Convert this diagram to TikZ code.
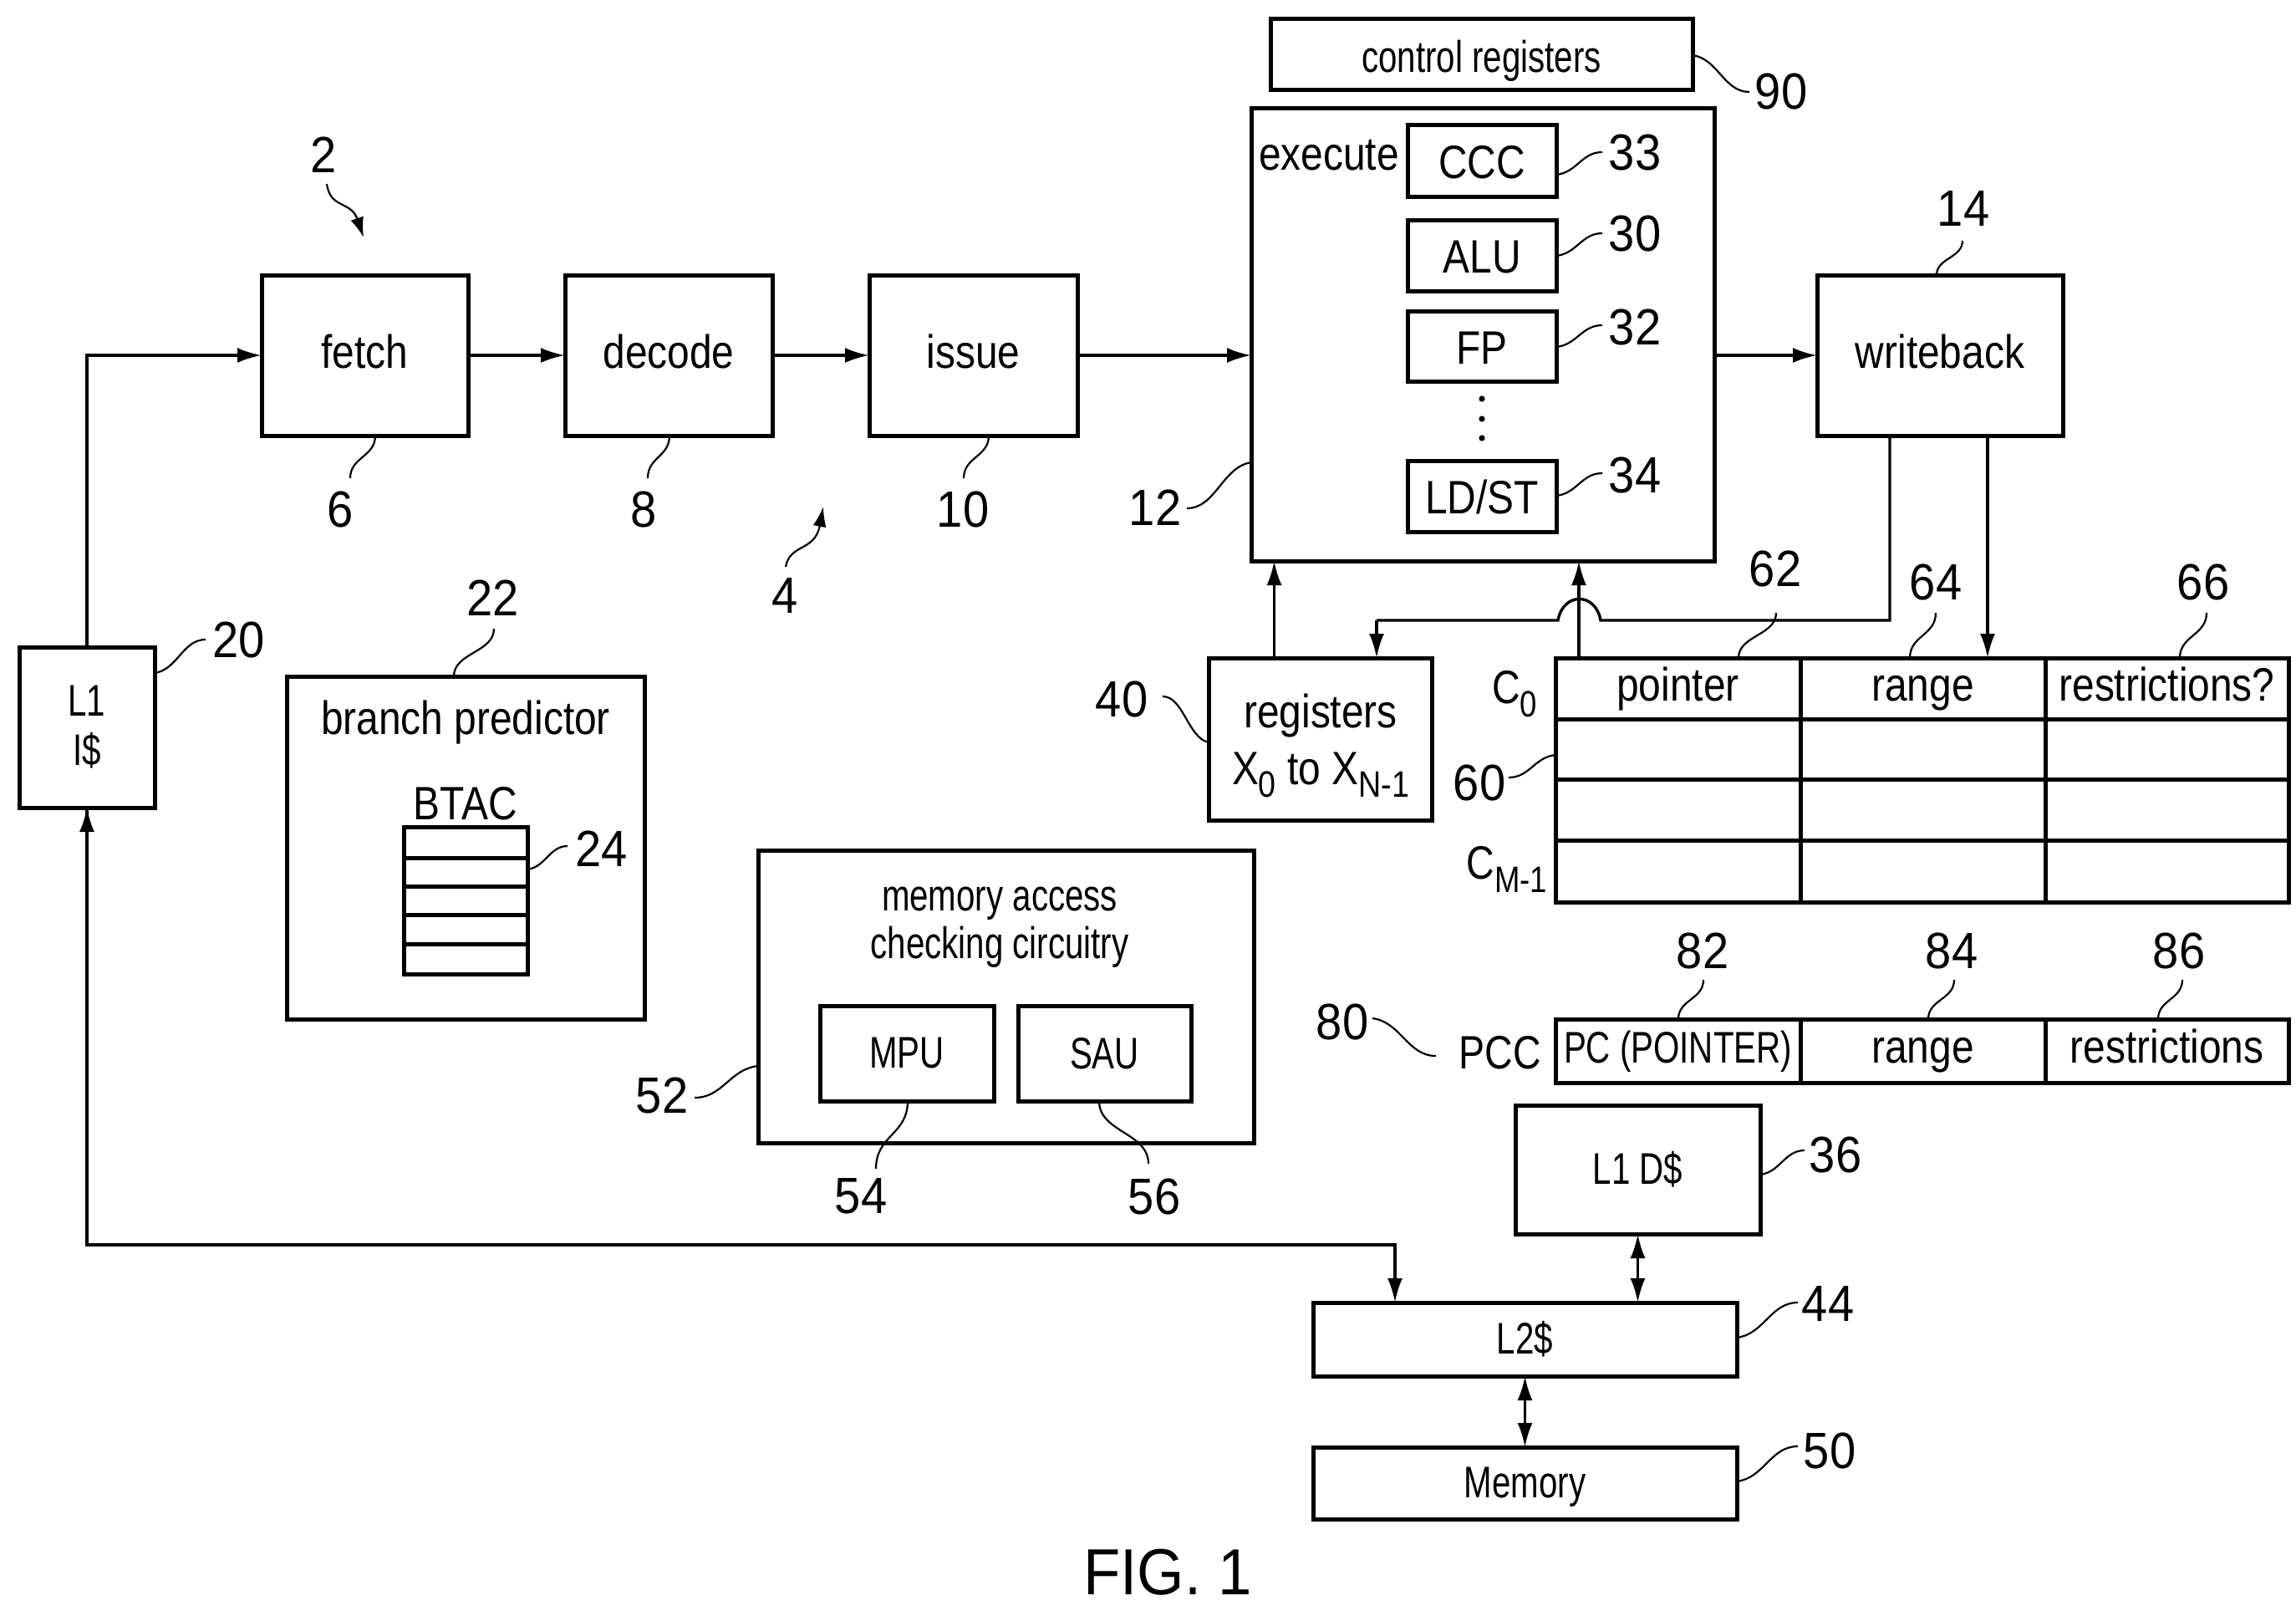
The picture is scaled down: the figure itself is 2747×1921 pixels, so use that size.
\documentclass[tikz,border=0pt]{standalone}
\usepackage{fontspec}
\usetikzlibrary{arrows.meta,calc}
\setmainfont{Liberation Sans}
\newfontfamily\lblfont[FakeStretch=.76]{Liberation Sans}
\newfontfamily\bigfont[FakeStretch=.855]{Liberation Sans}
\newfontfamily\capfont[FakeStretch=.83]{Liberation Sans}
\newfontfamily\numfont[FakeStretch=.92]{Liberation Sans}
\newfontfamily\figfont[FakeStretch=.93]{Liberation Sans}
\newcommand{\lblsize}{\lblfont\fontsize{53}{57}\selectfont}
\newcommand{\bigsize}{\bigfont\fontsize{56}{60}\selectfont}
\newcommand{\capsize}{\capfont\fontsize{56}{60}\selectfont}
\newcommand{\numsize}{\numfont\fontsize{61}{66}\selectfont}
\newcommand{\sbs}[1]{\raisebox{-.28em}{\fontsize{44}{44}\selectfont #1}}
\tikzset{
  boxst/.style={draw=black,line width=5pt,fill=white,inner sep=0pt,outer sep=0pt,font=\lblsize,align=center},
  big/.style={font=\bigsize},
  lowa/.style={text height=42pt,text depth=12pt},
  lowb/.style={text height=54pt,text depth=12pt},
  lowc/.style={text height=54pt,text depth=12pt},
  lowd/.style={text height=47pt,text depth=12pt},
  txt/.style={inner sep=0pt,font=\lblsize,align=center},
  numst/.style={inner sep=0pt,font=\numsize},
  wire/.style={draw=black,line width=3.4pt},
  head/.style={-{Latex[length=29pt,width=18pt]}},
  dhead/.style={{Latex[length=29pt,width=18pt]}-{Latex[length=29pt,width=18pt]}},
  leadst/.style={draw=black,line width=2.2pt},
}
\newcommand{\bxn}[7][]{%
  \pgfmathsetmacro\cw{#5-#3}\pgfmathsetmacro\ch{#6-#4}%
  \node[boxst,minimum width=\cw pt,minimum height=\ch pt,#1] (#2) at ({(#3+#5)/2},{(#4+#6)/2}) {#7};}
\newcommand{\nm}[4]{\node[numst] (#1) at (#2,#3) {#4};}
% leaders: horizontal-ended and vertical-ended S curves
\newcommand{\ldh}[5]{\coordinate (#1a) at (#2,#3);\coordinate (#1b) at (#4,#5);
  \draw[leadst] (#1a) .. controls ({#2+.45*(#4-#2)},{#3+.1*(#5-#3)}) and ({#4-.45*(#4-#2)},{#5}) .. (#1b);}
\newcommand{\ldv}[5]{\coordinate (#1a) at (#2,#3);\coordinate (#1b) at (#4,#5);
  \draw[leadst] (#1a) .. controls ({#2},{#3+.5*(#5-#3)}) and ({#4},{#5-.5*(#5-#3)}) .. (#1b);}
\begin{document}
\begin{tikzpicture}[x=1pt,y=-1pt]
\useasboundingbox (0,0) rectangle (2747,1921);
\fill[white] (0,0) rectangle (2747,1921);

% pipeline
\bxn[big,lowa]{fetch}{313}{329}{560}{521}{fetch}
\bxn[big,lowa]{decode}{676}{329}{924}{521}{decode}
\bxn[big,lowa]{issue}{1040}{329}{1289}{521}{issue}
\bxn{exec}{1497}{130}{2051}{671}{}
\bxn[big,lowa]{wb}{2174}{329}{2468}{521}{writeback}
\bxn[lowc]{ctrl}{1520}{23}{2025}{108}{control registers}
\node[txt,big,anchor=base] (exectxt) at (1590,204) {execute};
\bxn[big,lowb]{ccc}{1684}{150}{1862}{236}{CCC}
\bxn[big,lowb]{alu}{1684}{263}{1862}{348}{ALU}
\bxn[big,lowb]{fp}{1684}{372}{1862}{456}{FP}
\bxn[big,lowb]{ldst}{1684}{551}{1862}{636}{LD/ST}
\foreach \i/\yy in {a/477,b/501,c/524}{\fill[black] (1773,\yy) circle (3.6pt) coordinate (dot\i);}

% L1 I$, predictor
\bxn{lone}{23}{774}{185}{966}{L1\\[2pt]I\$}
\bxn{bp}{343}{809}{771}{1219}{}
\node[txt,big] (bptxt) at (557,864) {branch predictor};
\node[txt,big] (btac) at (557,961) {BTAC};
\bxn{btacbox}{483}{989}{631}{1165}{}
\foreach \i/\yy in {a/1026,b/1060,c/1094,d/1129}{\draw[line width=5pt] (btacbox.west |- 0,\yy) coordinate (bl\i) -- (btacbox.east |- 0,\yy);}

% memory checker
\bxn{mac}{907}{1017}{1500}{1367}{}
\node[txt] (mactxt) at (1196,1109) {memory access\\checking circuitry};
\bxn{mpu}{981}{1203}{1189}{1317}{MPU}
\bxn{sau}{1218}{1203}{1425}{1317}{SAU}

% registers
\bxn{regs}{1446}{787}{1713}{981}{}
\node[txt,big] (regtxt) at (1580,892) {registers\\[8pt]X\sbs{0} to X\sbs{N-1}};

% capability table
\foreach \c/\xa/\xb in {0/1861/2154,1/2154/2447,2/2447/2738}{
  \foreach \r/\ya/\yb in {0/787/860,1/860/932,2/932/1005,3/1005/1079}{
    \bxn{cell\r\c}{\xa}{\ya}{\xb}{\yb}{}
  }
}
\node[txt,big,anchor=base] (t0) at (cell00 |- 0,838) {pointer};
\node[txt,big,anchor=base] (t1) at (cell01 |- 0,838) {range};
\node[txt,big,anchor=base] (t2) at (cell02 |- 0,838) {restrictions?};
\node[txt,font=\capsize] (czero) at (1812,830) {C\sbs{0}};
\node[txt,font=\capsize] (cm) at (1803,1040) {C\sbs{M-1}};

% PCC
\bxn{pa}{1861}{1219}{2154}{1295}{}
\bxn{pb}{2154}{1219}{2447}{1295}{}
\bxn{pc}{2447}{1219}{2738}{1295}{}
\node[txt,anchor=base] (pta) at (pa |- 0,1271) {PC (POINTER)};
\node[txt,big,anchor=base] (ptb) at (pb |- 0,1271) {range};
\node[txt,big,anchor=base] (ptc) at (pc |- 0,1271) {restrictions};
\node[txt,font=\capsize] (pcc) at (1795,1259) {PCC};

% caches and memory
\bxn{done}{1813}{1322}{2106}{1476}{L1 D\$}
\bxn{ltwo}{1571}{1558}{2078}{1646}{L2\$}
\bxn[lowd]{mem}{1571}{1731}{2078}{1817}{Memory}

% connectors
\draw[wire,head] (fetch.east) -- (decode.west);
\draw[wire,head] (decode.east) -- (issue.west);
\draw[wire,head] (issue.east) -- (issue.east -| exec.west);
\draw[wire,head] (wb.west -| exec.east) -- (wb.west);
\draw[wire,head] (lone.north) |- (fetch.west);
\coordinate (busturn) at (1669,1489);
\draw[wire,head] (lone.south) |- (busturn) -- (busturn |- ltwo.north);
\draw[wire,{Latex[length=29pt,width=18pt]}-] (lone.south) -- ++(0,40);
\coordinate (regup) at ([xshift=-55pt]regs.north);
\draw[wire,head] (regup) -- (regup |- exec.south);
\coordinate (tabup) at (1889,787);
\draw[wire,head] (tabup) -- (tabup |- exec.south);
\coordinate (wbdown) at ([xshift=-60pt]wb.south);
\coordinate (hopr) at (1915,742);
\coordinate (hopl) at (1864,742);
\coordinate (regdown) at (1647,742);
\draw[wire] (wbdown) |- (hopr) .. controls +(-6,-34) and +(6,-34) .. (hopl) -- (regdown);
\draw[wire,head] (regdown) -- (regdown |- regs.north);
\coordinate (wbdownb) at ([xshift=57pt]wb.south);
\draw[wire,head] (wbdownb) -- (wbdownb |- cell01.north);
\draw[wire,dhead] (done.south) -- (done.south |- ltwo.north);
\draw[wire,dhead] (ltwo.south) -- (mem.north);

% numerals and leaders
\nm{n2}{387}{185}{2}
\nm{n4}{939}{713}{4}
\nm{n6}{407}{609}{6}
\nm{n8}{770}{609}{8}
\nm{n10}{1152}{609}{10}
\nm{n12}{1382}{607}{12}
\nm{n14}{2349}{250}{14}
\nm{n90}{2131}{110}{90}
\nm{n33}{1956}{183}{33}
\nm{n30}{1956}{280}{30}
\nm{n32}{1956}{391}{32}
\nm{n34}{1956}{568}{34}
\nm{n62}{2124}{680}{62}
\nm{n64}{2316}{696}{64}
\nm{n66}{2636}{696}{66}
\nm{n60}{1770}{936}{60}
\nm{n40}{1342}{836}{40}
\nm{n20}{286}{765}{20}
\nm{n22}{590}{715}{22}
\nm{n24}{720}{1015}{24}
\nm{n52}{792}{1310}{52}
\nm{n54}{1030}{1431}{54}
\nm{n56}{1381}{1431}{56}
\nm{n80}{1606}{1222}{80}
\nm{n82}{2037}{1137}{82}
\nm{n84}{2335}{1137}{84}
\nm{n86}{2607}{1137}{86}
\nm{n36}{2196}{1381}{36}
\nm{n44}{2187}{1560}{44}
\nm{n50}{2189}{1735}{50}
\node[inner sep=0pt,font=\figfont\fontsize{78}{80}\selectfont] (fig) at (1397,1881) {FIG. 1};

\ldv{l6}{449}{521}{419}{572}
\ldv{l8}{801}{521}{775}{572}
\ldv{l10}{1183}{521}{1153}{572}
\ldh{l12}{1497}{553}{1420}{608}
\ldv{l14}{2317}{329}{2348}{288}
\ldh{l90}{2025}{66}{2093}{110}
\ldh{l33}{1862}{209}{1917}{182}
\ldh{l30}{1862}{306}{1917}{279}
\ldh{l32}{1862}{415}{1917}{389}
\ldh{l34}{1862}{593}{1917}{566}
\ldv{l62}{2080}{787}{2125}{733}
\ldv{l64}{2285}{787}{2316}{733}
\ldv{l66}{2608}{787}{2640}{733}
\ldh{l60}{1861}{903}{1805}{930}
\ldh{l40}{1446}{888}{1391}{833}
\ldh{l20}{185}{805}{246}{765}
\ldv{l22}{543}{809}{591}{752}
\ldh{l24}{631}{1040}{679}{1012}
\ldh{l52}{907}{1275}{831}{1313}
\ldv{l54}{1086}{1317}{1048}{1398}
\ldv{l56}{1315}{1317}{1374}{1392}
\ldh{l80}{1642}{1218}{1718}{1263}
\ldv{l82}{2008}{1219}{2038}{1172}
\ldv{l84}{2307}{1219}{2338}{1172}
\ldv{l86}{2582}{1219}{2611}{1172}
\ldh{l36}{2106}{1405}{2159}{1376}
\ldh{l44}{2078}{1600}{2151}{1558}
\ldh{l50}{2078}{1772}{2151}{1730}
% curly arrows
\coordinate (c2a) at (391,220);\coordinate (c2b) at (435,284);
\draw[leadst,-{Latex[length=24pt,width=16pt]}] (c2a) .. controls (395,250) and (420,240) .. (c2b);
\coordinate (c4a) at (940,678);\coordinate (c4b) at (985,606);
\draw[leadst,-{Latex[length=24pt,width=16pt]}] (c4a) .. controls (945,650) and (975,660) .. (c4b);
\end{tikzpicture}
\end{document}
